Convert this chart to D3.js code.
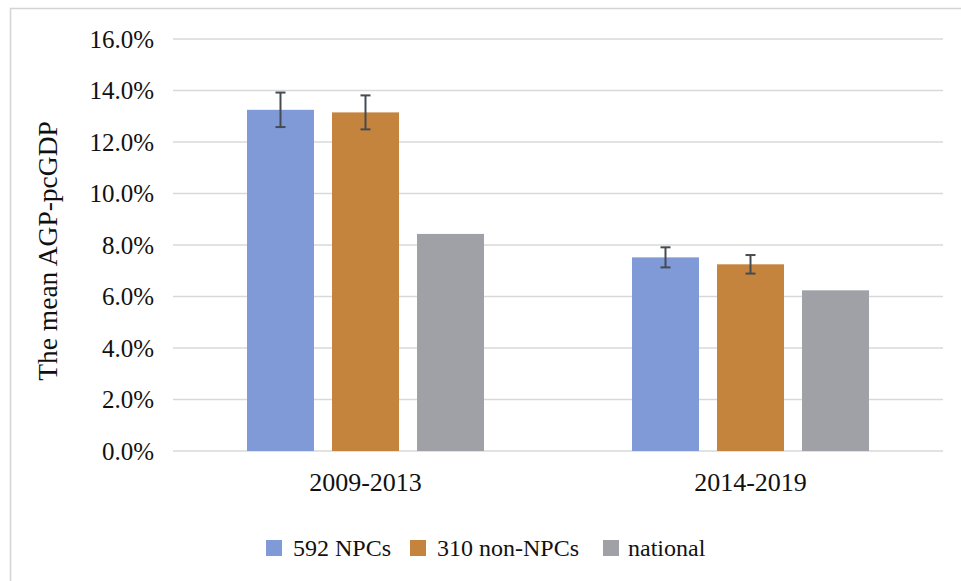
<!DOCTYPE html>
<html>
<head>
<meta charset="utf-8">
<script src="https://cdn.jsdelivr.net/npm/d3@7"></script>
<style>
  body { margin: 0; background: #fff; }
  text { font-family: "Liberation Serif", "Times New Roman", serif; fill: #111; }
</style>
</head>
<body>
<div id="chart"></div>
<script>
const periods = ['2009-2013', '2014-2019'];
const seriesNames = ['592 NPCs', '310 non-NPCs', 'national'];
const npcValues = [13.25, 7.52];
const npcErrors = [0.67, 0.39];
const nonNpcValues = [13.15, 7.25];
const nonNpcErrors = [0.66, 0.36];
const nationalValues = [8.43, 6.24];
const yTicks = [0, 2, 4, 6, 8, 10, 12, 14, 16];

const colors = ['#7f9ad6', '#c5843d', '#a0a1a6'];

const svg = d3.select('#chart').append('svg')
    .attr('width', 961).attr('height', 581);

// outer frame
svg.append('rect')
    .attr('x', 10.5).attr('y', 8.5)
    .attr('width', 960).attr('height', 580)
    .attr('fill', 'none')
    .attr('stroke', '#d4d4d4')
    .attr('stroke-width', 1.5);

const margin = {top: 39, right: 18, bottom: 130, left: 173};
const width = 961 - margin.left - margin.right;
const height = 581 - margin.top - margin.bottom;

const g = svg.append('g')
    .attr('transform', 'translate(' + margin.left + ',' + margin.top + ')');

const x = d3.scaleBand().domain(periods).range([0, width]);
const y = d3.scaleLinear().domain([0, 16]).range([height, 0]);

// gridlines
g.selectAll('.grid')
    .data(yTicks)
    .enter().append('line')
    .attr('class', 'grid')
    .attr('x1', 0).attr('x2', width)
    .attr('y1', d => y(d)).attr('y2', d => y(d))
    .attr('stroke', '#d9d9d9')
    .attr('stroke-width', 1.5);

// y tick labels
const yAxis = d3.axisLeft(y).tickValues(yTicks)
    .tickFormat(d => d.toFixed(1) + '%').tickSize(0).tickPadding(19);
g.append('g').call(yAxis)
    .call(s => s.select('.domain').remove())
    .selectAll('text')
    .attr('font-size', 25)
    .attr('font-family', '"Liberation Serif", serif')
    .attr('fill', '#111');

// x axis labels
const xAxis = d3.axisBottom(x).tickSize(0).tickPadding(22);
g.append('g').attr('transform', 'translate(0,' + height + ')').call(xAxis)
    .call(s => s.select('.domain').remove())
    .selectAll('text')
    .attr('font-size', 26)
    .attr('font-family', '"Liberation Serif", serif')
    .attr('fill', '#111');

// y title
svg.append('text')
    .attr('transform', 'translate(47,' + 251 + ') rotate(-90)')
    .attr('text-anchor', 'middle')
    .attr('dy', '0.35em')
    .attr('font-size', 27.5)
    .text('The mean AGP-pcGDP');

const inner = d3.scaleBand().domain(seriesNames)
    .range([74, x.bandwidth() - 74]).paddingInner(0.212);

const rows = [];
periods.forEach((p, i) => {
  rows.push({period: p, series: seriesNames[0], value: npcValues[i], err: npcErrors[i]});
  rows.push({period: p, series: seriesNames[1], value: nonNpcValues[i], err: nonNpcErrors[i]});
  rows.push({period: p, series: seriesNames[2], value: nationalValues[i], err: null});
});

const color = d3.scaleOrdinal().domain(seriesNames).range(colors);

g.selectAll('.bar')
    .data(rows)
    .enter().append('rect')
    .attr('class', 'bar')
    .attr('x', d => x(d.period) + inner(d.series))
    .attr('width', inner.bandwidth())
    .attr('y', d => y(d.value))
    .attr('height', d => height - y(d.value))
    .attr('fill', d => color(d.series));

// error bars
const errs = g.selectAll('.err')
    .data(rows.filter(d => d.err !== null))
    .enter().append('g')
    .attr('class', 'err')
    .attr('stroke', '#444b52')
    .attr('stroke-width', 2);

const cx = d => x(d.period) + inner(d.series) + inner.bandwidth() / 2;
errs.append('line')
    .attr('x1', cx).attr('x2', cx)
    .attr('y1', d => y(d.value + d.err)).attr('y2', d => y(d.value - d.err));
errs.append('line')
    .attr('x1', d => cx(d) - 5).attr('x2', d => cx(d) + 5)
    .attr('y1', d => y(d.value + d.err)).attr('y2', d => y(d.value + d.err));
errs.append('line')
    .attr('x1', d => cx(d) - 5).attr('x2', d => cx(d) + 5)
    .attr('y1', d => y(d.value - d.err)).attr('y2', d => y(d.value - d.err));

// legend
const legendSwatchX = [266, 410, 603];
const legendTextX = [293, 437, 628];
const legend = svg.append('g').attr('transform', 'translate(0,548)');
seriesNames.forEach((name, i) => {
  legend.append('rect')
      .attr('x', legendSwatchX[i]).attr('y', -8)
      .attr('width', 16).attr('height', 16)
      .attr('fill', colors[i]);
  legend.append('text')
      .attr('x', legendTextX[i]).attr('y', 8)
      .attr('font-size', 24)
      .text(name);
});
</script>
</body>
</html>
